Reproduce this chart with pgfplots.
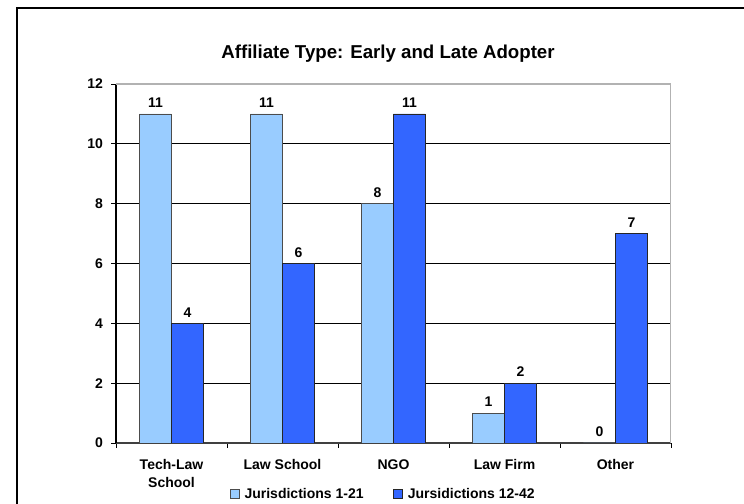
\documentclass[border=0pt]{standalone}
\usepackage{fontspec}
\setmainfont{Liberation Sans}
\usepackage{pgfplots}
\pgfplotsset{compat=1.18}
\definecolor{earlyblue}{HTML}{99CCFF}
\definecolor{lateblue}{HTML}{3366FF}
\newcommand{\lblfont}{\bfseries\fontsize{10.5}{13.5}\selectfont}

\begin{document}
\begin{tikzpicture}
\useasboundingbox (0,0) rectangle (558pt,378pt);
% outer chart frame
\draw[line width=1pt] (12.75pt,-2pt) -- (12.75pt,372pt) -- (560pt,372pt);
\begin{axis}[
  at={(87pt,45.75pt)}, anchor=south west,
  width=416.25pt, height=269.25pt, scale only axis,
  xmin=-0.5, xmax=4.5, ymin=0, ymax=12,
  ybar, bar width=24pt,
  axis lines=left,
  axis line style={-, line width=0.8pt},
  x axis line style={draw=black!75},
  tick align=outside, major tick length=3.75pt,
  tick style={black, line width=0.6pt},
  xtick={-0.5,0.5,...,4.5}, xticklabels={},
  extra x ticks={0,1,2,3,4},
  extra x tick labels={{Tech-Law\\School},{Law School},NGO,{Law Firm},Other},
  extra x tick style={major tick length=0pt, tick label style={yshift=-9pt}},
  ytick={0,2,...,12},
  yticklabel style={xshift=-2.5pt},
  ymajorgrids, grid style={black, line width=0.6pt},
  tick label style={font=\lblfont, align=center},
  /pgf/number format/assume math mode=true,
  nodes near coords,
  every node near coord/.append style={font=\lblfont, yshift=1pt},
  legend style={at={(0.482,-0.142)}, anchor=center, draw=none,
    font=\lblfont, legend columns=2,
    /tikz/every even column/.append style={column sep=20pt}},
  legend image code/.code={%
    \draw[#1, line width=0.6pt] (0pt,-3.4pt) rectangle (6.8pt,3.4pt);
    \path (8.6pt,0pt);},
]
\addplot[fill=earlyblue, draw=black!70, line width=0.6pt, bar shift=-12pt]
  coordinates {(0,11) (1,11) (2,8) (3,1) (4,0)};
\addplot[fill=lateblue, draw=black!85, line width=0.6pt, bar shift=12pt]
  coordinates {(0,4) (1,6) (2,11) (3,2) (4,7)};
\legend{Jurisdictions 1-21, Jursidictions 12-42}
% plot area border on top and right
\draw[gray!60, line width=0.8pt] (axis description cs:0,1) -- (axis description cs:1,1) -- (axis description cs:1,0);
\end{axis}
\node[font=\bfseries\fontsize{14}{17}\selectfont] at (291pt,338pt) {Affiliate Type: Early and Late Adopter};
\end{tikzpicture}
\end{document}
